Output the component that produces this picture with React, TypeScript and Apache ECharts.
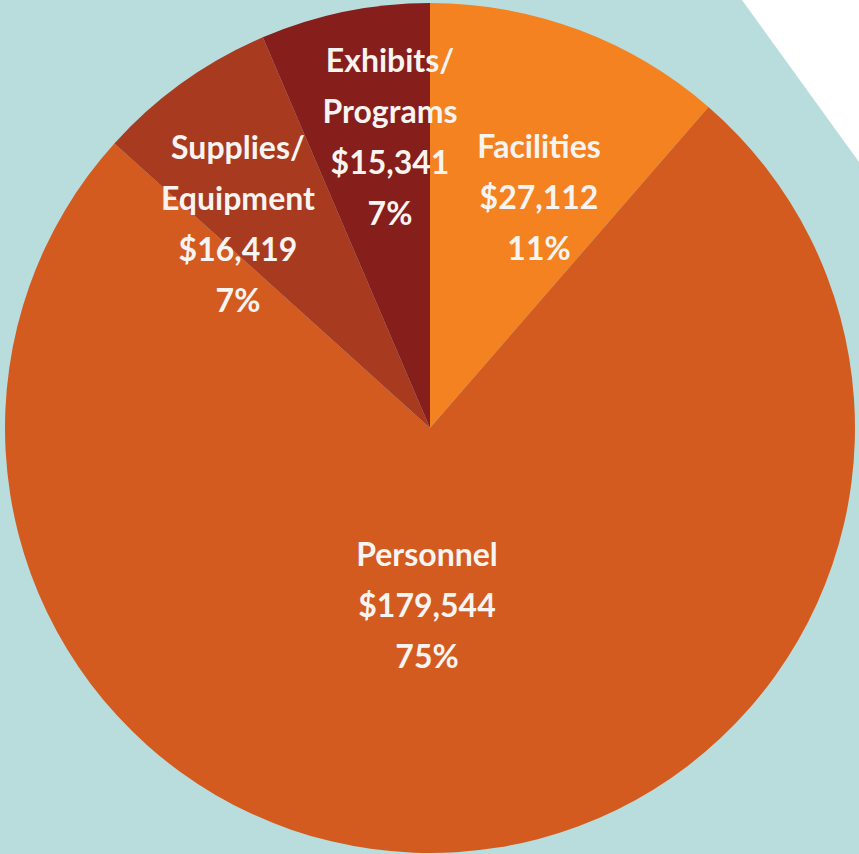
import React, { useEffect, useRef } from "react";
import * as echarts from "echarts";

const categories = ["Facilities", "Personnel", "Supplies/\nEquipment", "Exhibits/\nPrograms"];
const amounts = [27112, 179544, 16419, 15341];
const percentLabels = ["11%", "75%", "7%", "7%"];
const sliceColors = ["#f58220", "#d35b20", "#a83a20", "#861e1b"];
const labelSpots = [
  [539, 196],
  [427, 604],
  [238, 223],
  [390, 136],
];

export default function App() {
  const ref = useRef<HTMLDivElement>(null);
  useEffect(() => {
    if (!ref.current) return;
    const chart = echarts.init(ref.current, null, { renderer: "svg" });
    chart.setOption({
      animation: false,
      backgroundColor: "#b9dddd",
      graphic: [
        {
          type: "polygon",
          shape: { points: [[742, 0], [859, 0], [859, 162]] },
          style: { fill: "#ffffff" },
          silent: true,
        },
      ],
      series: [
        {
          type: "pie",
          center: [430, 428],
          radius: [0, 425],
          startAngle: 90,
          clockwise: true,
          silent: true,
          data: categories.map((name, i) => ({
            name,
            value: amounts[i],
            itemStyle: { color: sliceColors[i] },
          })),
          label: {
            show: true,
            position: "inside",
            color: "#f8f4f1",
            fontFamily: "Lato",
            fontWeight: "bold",
            fontSize: 32,
            lineHeight: 51,
            align: "center",
            formatter: (p: any) =>
              `${p.name}\n$${amounts[p.dataIndex].toLocaleString("en-US")}\n${percentLabels[p.dataIndex]}`,
          },
          labelLine: { show: false },
          labelLayout: (p: any) => ({
            x: labelSpots[p.dataIndex][0],
            y: labelSpots[p.dataIndex][1],
            align: "center",
            verticalAlign: "middle",
          }),
        },
      ],
    });
    return () => chart.dispose();
  }, []);
  return (
    <div
      ref={ref}
      style={{ position: "absolute", left: 0, top: 0, width: 859, height: 854 }}
    />
  );
}
